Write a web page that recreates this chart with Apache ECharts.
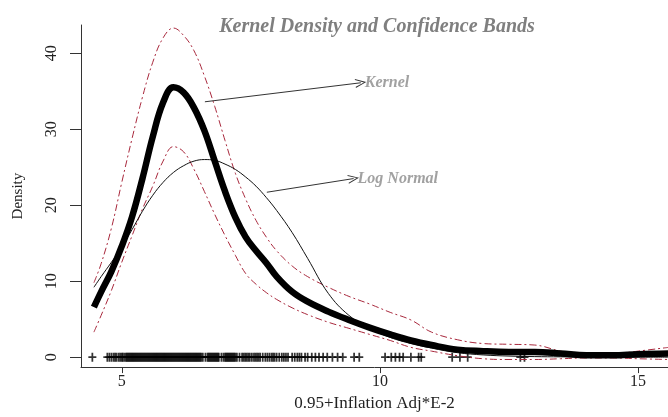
<!DOCTYPE html>
<html>
<head>
<meta charset="utf-8">
<script src="https://cdn.jsdelivr.net/npm/echarts@6/dist/echarts.min.js"></script>
<style>
  html, body { margin: 0; padding: 0; background: #fff; }
  #chart { width: 668px; height: 417px; }
</style>
</head>
<body>
<div id="chart"></div>
<script>
// x grid shared by the four curves
const xGrid = [4.46, 4.6, 4.8, 5.0, 5.2, 5.4, 5.6, 5.8, 6.0, 6.2, 6.4, 6.6, 6.8, 7.0, 7.2, 7.4, 7.6, 7.8, 8.0, 8.3,
  8.6, 9.0, 9.4, 9.8, 10.2, 10.6, 11.0, 11.5, 12.0, 12.5, 13.0, 13.5, 14.0, 14.5, 15.0, 15.6];

const kernel = [6.6, 8.6, 11.3, 14.6, 18.5, 23.5, 29.0, 33.5, 35.5, 34.8, 32.8, 29.8, 25.8, 21.8, 18.4, 15.8, 14.0, 12.4, 10.6, 8.6,
  7.3, 6.0, 4.9, 3.9, 3.0, 2.2, 1.6, 1.0, 0.8, 0.7, 0.7, 0.5, 0.25, 0.25, 0.4, 0.5];

const logNormal = [9.2, 10.6, 12.5, 14.5, 16.8, 19.2, 21.3, 23.0, 24.3, 25.2, 25.8, 26.0, 25.9, 25.4, 24.7, 23.7, 22.5, 21.0, 19.3, 16.4,
  13.0, 8.4, 5.5, 3.8, 2.6, 1.8, 1.2, 0.6, 0.3, 0.15, 0.08, 0.05, 0.03, 0.02, 0.01, 0.01];

const upperBand = [9.8, 12.3, 17.0, 23.0, 28.8, 34.2, 38.8, 42.0, 43.3, 42.3, 40.3, 37.0, 33.0, 28.5, 24.2, 20.8, 18.0, 15.8, 14.0, 12.0,
  10.6, 9.2, 8.0, 7.0, 5.9, 4.9, 3.3, 2.3, 1.8, 1.7, 1.6, 0.8, 0.3, 0.4, 0.8, 1.3];

const lowerBand = [3.3, 5.5, 8.8, 12.5, 16.0, 19.5, 22.5, 25.8, 27.7, 27.0, 24.7, 21.8, 18.8, 16.0, 13.4, 11.0, 9.6, 8.5, 7.6, 6.5,
  5.6, 4.6, 3.8, 3.0, 2.2, 1.3, 0.8, 0.2, -0.2, -0.3, -0.3, -0.2, -0.1, -0.1, -0.2, -0.3];

// observations drawn as "+" along y = 0
const rug = [4.43,
  4.72, 4.76, 4.8, 4.84, 4.87, 4.9, 4.94, 4.97, 5.0, 5.02, 5.05, 5.08,
  5.1, 5.12, 5.14, 5.16, 5.18, 5.2, 5.22, 5.24, 5.26, 5.28, 5.3, 5.32, 5.34, 5.36, 5.38, 5.4, 5.42, 5.44,
  5.46, 5.48, 5.5, 5.52, 5.54, 5.56, 5.58, 5.6, 5.62, 5.64, 5.66, 5.68, 5.7, 5.72, 5.74, 5.76, 5.78, 5.8,
  5.82, 5.84, 5.86, 5.88, 5.9, 5.92, 5.94, 5.96, 5.98, 6.0, 6.02, 6.04, 6.06, 6.08, 6.1, 6.12, 6.14, 6.16,
  6.18, 6.2, 6.22, 6.24, 6.26, 6.28, 6.3, 6.32, 6.34, 6.36, 6.38, 6.4, 6.42, 6.44, 6.46, 6.48, 6.5, 6.52,
  6.54, 6.57, 6.62, 6.66, 6.68, 6.7, 6.72, 6.74, 6.76, 6.78, 6.8, 6.82, 6.84, 6.86, 6.88,
  6.93, 6.97, 7.0, 7.02, 7.04, 7.06, 7.08, 7.1, 7.12, 7.14, 7.16, 7.18, 7.2, 7.23,
  7.28, 7.33, 7.36, 7.39, 7.42, 7.45, 7.48, 7.52, 7.56, 7.59, 7.62, 7.65, 7.68,
  7.73, 7.78, 7.82, 7.86, 7.9, 7.93, 7.96, 8.0, 8.05, 8.1, 8.14, 8.18, 8.22, 8.3, 8.35, 8.4, 8.44, 8.48,
  8.55, 8.6, 8.68, 8.75, 8.82, 8.9, 8.98, 9.08, 9.18,
  9.28, 9.5, 9.6, 10.1, 10.22, 10.3, 10.38, 10.45, 10.6, 10.75, 10.8, 11.4, 11.55, 11.7, 12.72, 12.8];

const xTicks = [5, 10, 15];
const yTicks = [0, 10, 20, 30, 40];

// annotation arrows (data units)
const noteLabels = ['Kernel', 'Log Normal'];
const arrowFrom = [[6.61, 33.6], [7.81, 21.7]];
const arrowTo = [[9.63, 36.1], [9.49, 23.5]];

const serif = '"Liberation Serif", "DejaVu Serif", serif';
const bandRed = '#a8283c';
const openArrow = 'path://M0,12L6,0L12,12L10.6,12L6,2.6L1.4,12Z';
const plusMark = 'path://M-1,-0.2L1,-0.2L1,0.2L-1,0.2Z M-0.22,-1L0.22,-1L0.22,1L-0.22,1Z';

const pairs = (ys) => xGrid.map((x, i) => [x, ys[i]]);

const chart = echarts.init(document.getElementById('chart'), null, { renderer: 'canvas' });

chart.setOption({
  animation: false,
  backgroundColor: '#fff',
  title: {
    text: 'Kernel Density and Confidence Bands',
    left: 372,
    top: 12,
    textAlign: 'center',
    textStyle: { fontFamily: serif, fontSize: 20, fontWeight: 'bold', fontStyle: 'italic', color: '#7f7f7f' },
  },
  grid: { left: 81, right: 0, top: 25, bottom: 42 },
  xAxis: {
    type: 'value',
    min: 4.21,
    max: 15.58,
    name: '0.95+Inflation Adj*E-2',
    nameLocation: 'middle',
    nameGap: 24,
    nameTextStyle: { fontFamily: serif, fontSize: 17, color: '#222' },
    axisLine: { onZero: false, lineStyle: { color: '#333', width: 1 } },
    axisTick: { customValues: xTicks, length: 6, lineStyle: { color: '#333' } },
    axisLabel: { customValues: xTicks, margin: 7, fontFamily: serif, fontSize: 16, color: '#222' },
    splitLine: { show: false },
  },
  yAxis: {
    type: 'value',
    min: -1.3,
    max: 43.7,
    name: 'Density',
    nameLocation: 'middle',
    nameGap: 55,
    nameTextStyle: { fontFamily: serif, fontSize: 15, color: '#222' },
    axisLine: { show: true, onZero: false, lineStyle: { color: '#333', width: 1 } },
    axisTick: { show: true, customValues: yTicks, length: 11, lineStyle: { color: '#333' } },
    axisLabel: { customValues: yTicks, rotate: 90, margin: 21, fontFamily: serif, fontSize: 16, color: '#222' },
    splitLine: { show: false },
  },
  series: [
    {
      name: 'Upper band',
      type: 'line',
      data: pairs(upperBand),
      smooth: 0.4,
      showSymbol: false,
      lineStyle: { color: bandRed, width: 1, type: [7, 3, 2, 3] },
    },
    {
      name: 'Lower band',
      type: 'line',
      data: pairs(lowerBand),
      smooth: 0.4,
      showSymbol: false,
      lineStyle: { color: bandRed, width: 1, type: [7, 3, 2, 3] },
    },
    {
      name: 'Log Normal',
      type: 'line',
      data: pairs(logNormal),
      smooth: 0.4,
      showSymbol: false,
      lineStyle: { color: '#111', width: 1 },
    },
    {
      name: 'Kernel',
      type: 'line',
      data: pairs(kernel),
      smooth: 0.4,
      showSymbol: false,
      lineStyle: { color: '#000', width: 6.5 },
    },
    {
      name: 'Observations',
      type: 'scatter',
      data: rug.map((x) => [x, 0]),
      symbol: plusMark,
      symbolSize: [8, 9],
      itemStyle: { color: '#000' },
      z: 1,
    },
    {
      name: 'Notes',
      type: 'scatter',
      data: noteLabels.map((t, i) => ({ name: t, value: arrowTo[i] })),
      symbolSize: 0,
      label: {
        show: true,
        position: 'right',
        distance: 4,
        formatter: '{b}',
        fontFamily: serif,
        fontSize: 16,
        fontWeight: 'bold',
        fontStyle: 'italic',
        color: '#8a8a8a',
      },
      markLine: {
        silent: true,
        symbol: ['none', openArrow],
        symbolSize: [9, 11],
        label: { show: false },
        lineStyle: { color: '#333', width: 1, type: 'solid' },
        data: arrowFrom.map((p, i) => [{ coord: p }, { coord: arrowTo[i] }]),
      },
    },
  ],
});
</script>
</body>
</html>
